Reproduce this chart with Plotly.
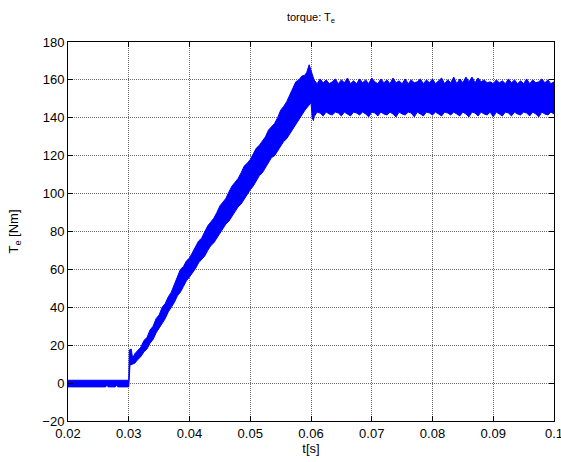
import plotly.graph_objects as go

# Upper and lower envelope of the (noisy) torque signal
upper_t = [0.0200, 0.0300, 0.0301, 0.0304, 0.0306, 0.0309,
           0.0310, 0.0315, 0.0320, 0.0325, 0.0330, 0.0335, 0.0340, 0.0345, 0.0350, 0.0355,
           0.0360, 0.0365, 0.0370, 0.0375, 0.0380, 0.0385, 0.0390, 0.0395, 0.0400, 0.0405,
           0.0410, 0.0415, 0.0420, 0.0425, 0.0430, 0.0435, 0.0440, 0.0445, 0.0450, 0.0455,
           0.0460, 0.0465, 0.0470, 0.0475, 0.0480, 0.0485, 0.0490, 0.0495, 0.0500, 0.0505,
           0.0510, 0.0515, 0.0520, 0.0525, 0.0530, 0.0535, 0.0540, 0.0545, 0.0550, 0.0555,
           0.0560, 0.0565, 0.0570, 0.0575, 0.0580, 0.0585, 0.0590, 0.0593, 0.0597, 0.0600]
upper_v = [1.5, 1.5, 17.5, 18.0, 14.0, 14.5,
           15.5, 17.5, 19.0, 22.5, 24.0, 28.0, 30.0, 34.0, 36.0, 40.0,
           42.0, 45.5, 48.0, 52.0, 56.0, 60.0, 61.5, 64.5, 66.0, 69.0,
           72.5, 75.0, 76.5, 79.5, 83.0, 85.0, 87.0, 90.0, 93.5, 95.5,
           97.5, 101.0, 104.0, 106.0, 108.0, 111.0, 114.5, 116.0, 118.0, 121.0,
           124.0, 125.5, 127.5, 130.0, 133.5, 135.0, 137.0, 140.0, 144.0, 146.0,
           148.5, 152.0, 156.0, 159.0, 160.0, 162.0, 162.5, 164.0, 168.0, 165.0]

lower_t = [0.0200, 0.0262, 0.0264, 0.0266, 0.0278, 0.0280, 0.0282, 0.0300, 0.0302,
           0.0305, 0.0310, 0.0315, 0.0320, 0.0325, 0.0330, 0.0335, 0.0340, 0.0345, 0.0350,
           0.0355, 0.0360, 0.0365, 0.0370, 0.0375, 0.0380, 0.0385, 0.0390, 0.0395, 0.0400,
           0.0405, 0.0410, 0.0415, 0.0420, 0.0425, 0.0430, 0.0435, 0.0440, 0.0445, 0.0450,
           0.0455, 0.0460, 0.0465, 0.0470, 0.0475, 0.0480, 0.0485, 0.0490, 0.0495, 0.0500,
           0.0505, 0.0510, 0.0515, 0.0520, 0.0525, 0.0530, 0.0535, 0.0540, 0.0545, 0.0550,
           0.0555, 0.0560, 0.0565, 0.0570, 0.0575, 0.0580, 0.0585, 0.0590, 0.0595, 0.0600,
           0.0602, 0.0604]
lower_v = [-2.0, -2.0, -1.0, -2.0, -2.0, -1.0, -2.0, -2.0, 9.5,
           10.0, 10.5, 12.5, 14.0, 16.5, 18.0, 21.0, 23.0, 26.5, 29.0,
           31.0, 34.0, 37.5, 40.0, 42.5, 46.0, 48.0, 51.0, 54.0, 56.0,
           58.0, 60.5, 63.5, 65.0, 67.0, 70.0, 72.5, 74.0, 76.5, 79.0,
           82.0, 84.0, 85.5, 88.0, 91.0, 93.0, 94.5, 97.0, 100.0, 102.0,
           104.0, 107.0, 109.5, 111.0, 113.5, 116.0, 119.0, 120.0, 122.5, 125.0,
           127.5, 129.0, 131.5, 134.0, 137.0, 139.0, 141.5, 144.0, 146.0, 148.0,
           140.0, 138.5]

# Steady-state part (after t = 0.06 s)
ss_t = [0.0605, 0.0610, 0.0615, 0.0620, 0.0625, 0.0630, 0.0635, 0.0640, 0.0645, 0.0650,
        0.0655, 0.0660, 0.0665, 0.0670, 0.0675, 0.0680, 0.0685, 0.0690, 0.0695, 0.0700,
        0.0705, 0.0710, 0.0715, 0.0720, 0.0725, 0.0730, 0.0735, 0.0740, 0.0745, 0.0750,
        0.0755, 0.0760, 0.0765, 0.0770, 0.0775, 0.0780, 0.0785, 0.0790, 0.0795, 0.0800,
        0.0805, 0.0810, 0.0815, 0.0820, 0.0825, 0.0830, 0.0835, 0.0840, 0.0845, 0.0850,
        0.0855, 0.0860, 0.0865, 0.0870, 0.0875, 0.0880, 0.0885, 0.0890, 0.0895, 0.0900,
        0.0905, 0.0910, 0.0915, 0.0920, 0.0925, 0.0930, 0.0935, 0.0940, 0.0945, 0.0950,
        0.0955, 0.0960, 0.0965, 0.0970, 0.0975, 0.0980, 0.0985, 0.0990, 0.0995, 0.1000]
ss_upper = [160.0, 158.0, 160.5, 158.5, 160.0, 158.0, 159.0, 160.5, 158.0, 160.0,
            158.5, 161.0, 158.0, 159.5, 158.0, 160.5, 158.5, 160.0, 158.0, 161.0,
            159.0, 158.0, 160.5, 158.5, 160.0, 158.0, 161.0, 158.5, 159.5, 158.0,
            160.5, 158.0, 160.0, 158.5, 159.0, 160.5, 158.0, 160.0, 158.5, 160.5,
            158.0, 159.5, 161.0, 158.0, 160.0, 158.5, 161.5, 158.0, 160.5, 158.5,
            161.5, 159.0, 161.5, 158.5, 161.0, 159.0, 160.0, 158.5, 159.0, 158.0,
            160.0, 158.5, 159.5, 158.0, 160.5, 158.5, 160.0, 158.0, 159.5, 158.0,
            160.5, 158.0, 160.0, 158.5, 159.0, 160.5, 158.5, 160.0, 158.0, 159.0]
ss_lower = [140.5, 143.0, 142.5, 141.0, 143.0, 142.0, 141.5, 143.0, 142.5, 141.0,
            143.0, 142.0, 141.0, 143.0, 142.5, 141.5, 143.0, 142.0, 140.5, 143.0,
            142.5, 141.0, 143.0, 142.0, 141.5, 143.0, 142.0, 140.5, 143.0, 142.0,
            141.5, 143.0, 142.5, 140.5, 143.0, 142.0, 141.0, 143.0, 142.5, 141.5,
            143.0, 142.0, 141.0, 143.0, 142.5, 141.5, 143.0, 142.0, 141.0, 143.0,
            142.0, 140.5, 143.0, 142.5, 141.0, 143.0, 142.0, 141.5, 143.0, 140.5,
            143.0, 142.0, 141.0, 143.0, 142.5, 141.0, 143.0, 142.0, 141.5, 143.0,
            142.5, 141.0, 143.0, 142.0, 140.5, 143.0, 142.0, 141.5, 143.0, 142.0]

x_ticks = [0.02, 0.03, 0.04, 0.05, 0.06, 0.07, 0.08, 0.09, 0.1]
x_labels = ["0.02", "0.03", "0.04", "0.05", "0.06", "0.07", "0.08", "0.09", "0.1"]
y_ticks = [-20, 0, 20, 40, 60, 80, 100, 120, 140, 160, 180]

BLUE = "rgb(0,0,255)"
FONT = "Liberation Sans, Arial, sans-serif"

fig = go.Figure()
fig.add_trace(go.Scatter(x=lower_t + ss_t, y=lower_v + ss_lower, mode="lines",
                         line=dict(color=BLUE, width=1), hoverinfo="skip",
                         showlegend=False))
fig.add_trace(go.Scatter(x=upper_t + ss_t, y=upper_v + ss_upper, mode="lines",
                         line=dict(color=BLUE, width=1), fill="tonexty",
                         fillcolor=BLUE, name="T_e", showlegend=False))

axis_common = dict(
    showline=True, linecolor="black", linewidth=1, mirror="allticks",
    ticks="inside", ticklen=5, tickcolor="black", tickwidth=1,
    showgrid=True, gridcolor="rgb(110,110,110)", griddash="1px,1px", gridwidth=1,
    zeroline=False, tickfont=dict(family=FONT, size=13, color="black"),
    ticklabeloverflow="allow",
)

fig.update_xaxes(range=[0.02, 0.1], tickvals=x_ticks, ticktext=x_labels,
                 title=dict(text="t[s]", font=dict(family=FONT, size=13, color="black"),
                            standoff=4),
                 **axis_common)
fig.update_yaxes(range=[-20, 180], tickvals=y_ticks,
                 title=dict(text="T<sub>e</sub> [Nm]",
                            font=dict(family=FONT, size=13, color="black"),
                            standoff=20),
                 **axis_common)

fig.update_layout(
    width=561, height=462,
    margin=dict(l=68, r=7, t=42, b=41, autoexpand=False),
    paper_bgcolor="white", plot_bgcolor="white",
    title=dict(text="torque: T<sub>e</sub>", xref="paper", x=0.5, xanchor="center",
               yref="container", y=1 - 17 / 462, yanchor="middle",
               font=dict(family=FONT, size=11, color="black")),
)

fig.write_html("out.html", config={"displayModeBar": False},
               post_script="document.body.style.margin='0';document.body.style.padding='0';")
